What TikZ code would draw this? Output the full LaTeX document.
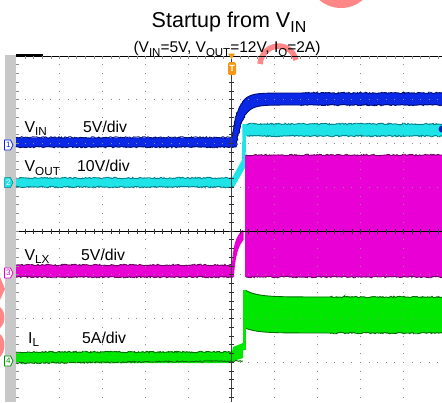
\documentclass[tikz,border=0pt]{standalone}
\usepackage{fontspec}
\setmainfont{Liberation Sans}
\usepackage{graphicx}
\usetikzlibrary{decorations.pathmorphing}
\definecolor{vinC}{RGB}{10,40,230}
\definecolor{vinF}{RGB}{0,15,120}
\definecolor{voutC}{RGB}{30,228,232}
\definecolor{voutF}{RGB}{0,130,140}
\definecolor{vlxC}{RGB}{232,0,212}
\definecolor{vlxF}{RGB}{110,0,100}
\definecolor{ilC}{RGB}{0,232,0}
\definecolor{ilF}{RGB}{0,110,0}
\definecolor{pinkW}{RGB}{255,135,135}
\definecolor{barG}{RGB}{200,200,200}
\definecolor{dotG}{RGB}{140,140,140}
\definecolor{trigC}{RGB}{245,150,20}
\newcommand\sbs[1]{\raisebox{-0.25em}{\scalebox{0.74}{#1}}}
\begin{document}
\begin{tikzpicture}[x=1pt,y=-1pt,
  fr/.style={decorate,decoration={random steps,segment length=1.3pt,amplitude=0.8pt},line width=0.9pt},
  hdots/.style={dotG,line width=1pt,dash pattern=on 1pt off 7.6pt},
  vdots/.style={dotG,line width=1pt,dash pattern=on 1pt off 7.75pt},
  lbl/.style={inner sep=0pt,anchor=base west,font=\fontsize{15.8}{18}\selectfont},
  tagnum/.style={inner sep=0pt,font=\fontsize{8}{8}\selectfont}]
\pgfmathsetseed{7}
\useasboundingbox (0,0) rectangle (442,402);
\fill[white] (0,0) rectangle (442,402);
% watermark pieces
\fill[pinkW] (341,-25) circle (33);
\fill[pinkW] (0,277) -- (5,289) -- (0,300) -- cycle;
\fill[pinkW] (0,307) .. controls (6,312) and (6,323) .. (0,328) -- cycle;
\fill[pinkW] (0,334) .. controls (6,339) and (6,351) .. (0,357) -- cycle;
\draw[pinkW,line width=5.5pt] (260,64) .. controls (262,43) and (290,39) .. (296,60);
% gray side bar
\fill[barG] (5,55) rectangle (15.5,402);
% ---- VIN trace
\fill[vinC] (16,137.5) -- (232,137.5)
  -- plot[domain=232:300,samples=60] (\x,{93+44.5*exp(-(\x-232)/6.5)})
  -- (442,93) -- (442,105)
  -- plot[domain=300:236,samples=60] (\x,{105+42*exp(-(\x-236)/6.5)})
  -- (16,147) -- cycle;
\draw[vinF,fr] (16,137.5) -- (232,137.5) -- plot[domain=232:300,samples=60] (\x,{93+44.5*exp(-(\x-232)/6.5)}) -- (442,93);
\draw[vinF,fr] (16,147) -- (236,147) -- plot[domain=236:300,samples=60] (\x,{105+42*exp(-(\x-236)/6.5)}) -- (442,105);
% ---- VOUT trace
\fill[voutC] (16,178) -- (232,178) -- (242,160) -- (242.5,124) -- (442,124) -- (442,136)
  -- (246,136) -- (245.5,167) -- (234,187) -- (16,187) -- cycle;
\draw[voutF,fr] (16,178) -- (232,178);
\draw[voutF,fr] (16,187) -- (234,187);
\draw[voutF,fr] (247,124) -- (442,124);
\draw[voutF,fr] (247,136) -- (442,136);
% ---- VLX trace
\fill[vlxC] (16,265) -- (232,265) .. controls (233,245) and (236,236) .. (242.5,230)
  -- (243.5,231) -- (243.5,240) .. controls (238,246) and (235,258) .. (234,277) -- (16,277) -- cycle;
\fill[vlxC] (245,155) rectangle (442,277);
\draw[vlxF,fr] (16,265) -- (232,265);
\draw[vlxF,fr] (16,277) -- (233,277);
\draw[vlxF,fr] (246,155) -- (442,155);
\draw[vlxF,fr] (246,277) -- (442,277);
% ---- IL trace
\fill[ilC] (16,352) -- (232,352) -- (233,347) -- (243,343) -- (243,358) -- (233,361) -- (232,363) -- (16,363) -- cycle;
\fill[ilC] (242.5,290) rectangle (245.5,350);
\fill[ilC] plot[domain=245:330,samples=50] (\x,{297-7*exp(-(\x-245)/12)}) -- (442,297) -- (442,333)
  -- plot[domain=330:245,samples=50] (\x,{333-5*exp(-(\x-245)/12)}) -- cycle;
\draw[ilF,fr] (16,352) -- (232,352);
\draw[ilF,fr] (16,363) -- (243,361);
\draw[ilF,fr] plot[domain=246:330,samples=50] (\x,{297-7*exp(-(\x-245)/12)}) -- (442,297);
\draw[ilF,fr] plot[domain=246:330,samples=50] (\x,{333-5*exp(-(\x-245)/12)}) -- (442,333);
% right edge channel marker dot
\fill[vinC!80!black] (442,129) circle (3.5);
% ---- grid
\foreach \k in {1,2,3,4,6,7,8,9}
  \draw[vdots] ({16.5+43*\k},55.5) -- ({16.5+43*\k},402);
\foreach \yy in {99.75,143.5,187.25,274.75,318.5,362.25}
  \draw[hdots] (16,\yy) -- (442,\yy);
% center axes with ticks
\draw[black,line width=1pt] (16,231) -- (442,231);
\foreach \i in {1,...,49}
  \draw[black!80,line width=0.7pt] ({16.5+8.6*\i},228.5) -- ({16.5+8.6*\i},233.5);
\draw[black!75,line width=0.8pt] (231.5,56) -- (231.5,402);
\foreach \j in {1,...,39}
  \draw[black!80,line width=0.7pt] (229,{56+8.75*\j}) -- (234,{56+8.75*\j});
% top border and left ticks
\draw[black,line width=1pt] (16,56) -- (442,56);
\draw[black,line width=2pt] (16,55) -- (43,55);
\foreach \i in {1,...,49}
  \draw[dotG,line width=0.7pt] ({16.5+8.6*\i},56) -- ({16.5+8.6*\i},59);
\foreach \j in {1,...,39}
  \draw[dotG,line width=0.7pt] (16,{56+8.75*\j}) -- (19,{56+8.75*\j});
% ---- channel markers
\filldraw[fill=white,draw=vinC,line width=0.8pt] (4.5,140) -- (10.5,140) -- (13,145) -- (10.5,150) -- (4.5,150) -- cycle;
\node[tagnum,text=vinC] (m1) at (8.3,145) {1};
\filldraw[fill=voutC,draw=voutF,line width=0.5pt] (4.5,177.5) -- (10.5,177.5) -- (13,182.5) -- (10.5,187.5) -- (4.5,187.5) -- cycle;
\node[tagnum,text=white] (m2) at (8.3,182.5) {2};
\filldraw[fill=white,draw=vlxC,line width=0.8pt] (4.5,268) -- (10.5,268) -- (13,273) -- (10.5,278) -- (4.5,278) -- cycle;
\node[tagnum,text=vlxC] (m3) at (8.3,273) {3};
\filldraw[fill=white,draw=ilF!70!ilC,line width=0.8pt] (4.5,356) -- (10.5,356) -- (13,361) -- (10.5,366) -- (4.5,366) -- cycle;
\node[tagnum,text=ilF!70!ilC] (m4) at (8.3,361) {4};
% ---- trigger marker
\fill[trigC] (228,53.5) -- (235,53.5) -- (231.5,59) -- cycle;
\fill[trigC,rounded corners=1.5pt] (228,62) rectangle (236,75);
\node[tagnum,text=white,font=\fontsize{9}{9}\selectfont\bfseries] (trig) at (232,68.5) {T};
% ---- channel labels
\node[lbl] (lvin) at (24.5,132) {V\sbs{IN}};
\node[lbl] (svin) at (83,132) {5V/div};
\node[lbl] (lvout) at (24.5,171.5) {V\sbs{OUT}};
\node[lbl] (svout) at (77,171) {10V/div};
\node[lbl] (lvlx) at (24.5,260) {V\sbs{LX}};
\node[lbl] (svlx) at (81,260) {5V/div};
\node[lbl] (lil) at (28,343) {I\sbs{L}};
\node[lbl] (sil) at (82,343) {5A/div};
% ---- titles
\node[inner sep=0pt,anchor=base,font=\fontsize{21.5}{25}\selectfont] (title) at (229,27.3) {Startup from V\sbs{IN}};
\node[inner sep=0pt,anchor=base,font=\fontsize{15.5}{18}\selectfont] (sub) at (227,52.3) {(V\sbs{IN}=5V, V\sbs{OUT}=12V, I\sbs{O}=2A)};
\end{tikzpicture}
\end{document}
